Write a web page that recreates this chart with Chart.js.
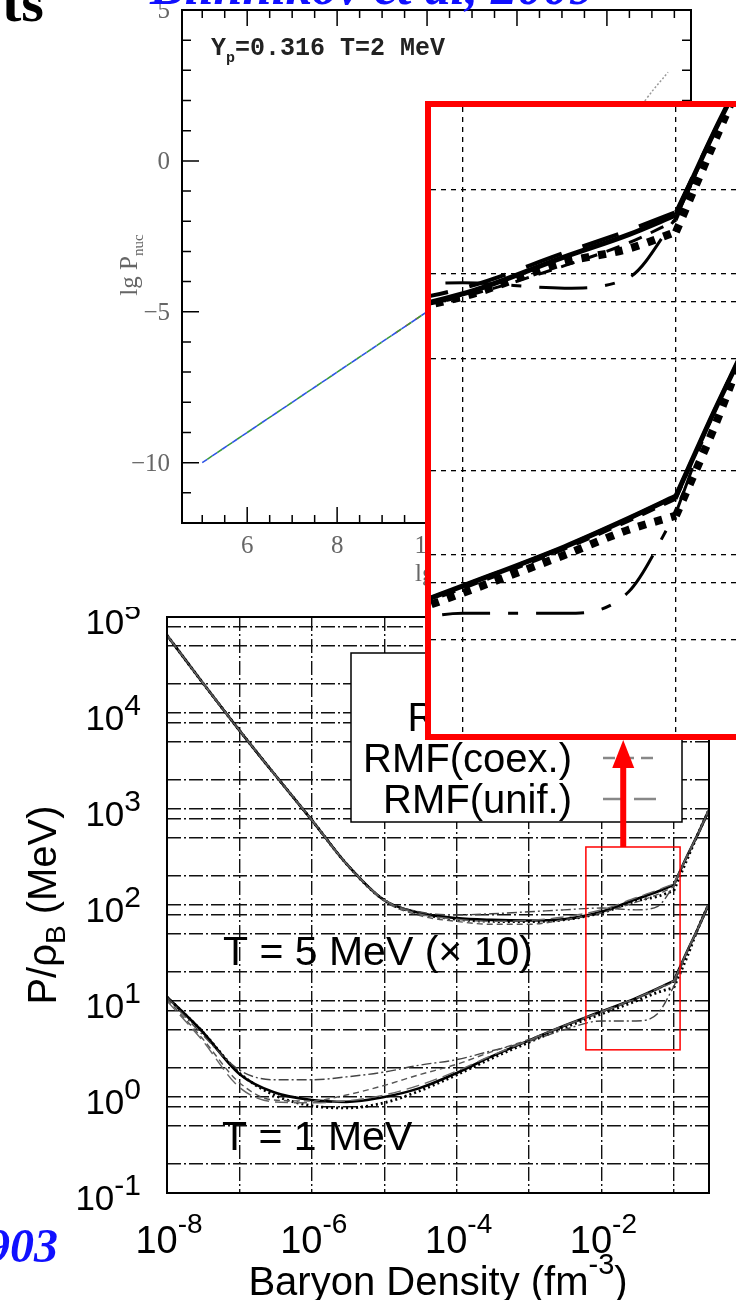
<!DOCTYPE html>
<html>
<head>
<meta charset="utf-8">
<script src="https://cdn.jsdelivr.net/npm/chart.js@4.4.1/dist/chart.umd.min.js"></script>
<style>
  body { margin: 0; background: #fff; }
  #page { position: relative; width: 736px; height: 1300px; overflow: hidden; background: #fff; }
  #page > canvas { position: absolute; }
  .slide { position: absolute; line-height: 0; white-space: nowrap; font-family: "Liberation Serif", serif; font-weight: bold; }
  #inset { position: absolute; left: 425px; top: 101px; width: 305px; height: 627px; border: 6px solid #ff0000; border-right: none; background: #fff; }
  #inset canvas { display: block; }
</style>
</head>
<body>
<div id="page">
  <canvas id="pressureChart" width="736" height="710" style="left:0;top:590px"></canvas>
  <canvas id="nucChart" width="736" height="607" style="left:0;top:0;background:#fff"></canvas>
  <div id="inset"><canvas id="zoomChart" width="305" height="627"></canvas></div>
  <div class="slide" style="left:2px;top:2.4px;font-size:58px;color:#000">ts</div>
  <div class="slide" style="left:150px;top:-13.5px;font-size:52px;color:#1010ff;font-style:italic">Blinnikov et al, 2009</div>
  <div class="slide" style="right:678px;top:1246px;font-size:48px;color:#1010ff;font-style:italic">0903</div>
</div>
<script>
// ---- upper figure (lg P_nuc vs lg rho, Yp=0.316, T=2 MeV)
const lgRho = [5, 6, 7, 8, 9, 10, 11];
const lgPnuc = [-10, -9, -8, -7, -6, -5, -4];
const lgRhoRed = [9.3, 10, 11];
const lgPnucRed = [-5.7, -5, -4];
const lgRhoDotted = [12.5, 13.5, 14.3, 14.9, 15.36];
const lgPnucDotted = [-2.5, -0.8, 0.8, 2.1, 2.94];
const lgRhoLabels = [6, 8, 10, 12, 14];
const lgPLabels = [-10, -5, 0, 5];

// ---- lower figure: P/rho_B (MeV) vs baryon density (fm^-3)
const density = [1e-8, 3e-8, 1e-7, 3e-7, 1e-6, 3e-6, 1e-5, 3e-5, 1e-4, 3e-4, 1e-3, 3e-3, 1e-2, 3e-2, 6e-2, 0.1, 0.15, 0.22, 0.3];
const kinkIndex = 15; // the curves break sharply at 0.1 fm^-3

// T = 5 MeV (x 10)
const t5Solid   = [64600, 21400, 6600, 2340, 767, 269, 112, 83, 73, 70, 69, 71, 85, 115, 138, 162, 316, 568, 950];
const t5Dotted  = [64600, 21400, 6600, 2340, 767, 269, 112, 82, 71, 67.5, 67, 70, 83, 110, 123, 141, 290, 568, 950];
const t5DashDot = [64600, 21400, 6600, 2340, 767, 270, 114, 85, 79, 81, 85, 89, 93, 89, 97, 158, 316, 568, 950];
const t5Coex    = [64600, 21400, 6600, 2340, 767, 269, 110, 78, 67.5, 63, 63, 70, 83, 107, 129, 155, 316, 568, 950];
const t5Unif    = [64600, 21400, 6600, 2340, 767, 269, 113, 81, 71, 67.5, 69, 75, 89, 119, 143, 166, 316, 568, 950];

// T = 1 MeV
const t1Solid   = [11.0, 4.9, 1.74, 1.12, 0.93, 0.89, 1.0, 1.23, 1.78, 2.63, 3.89, 5.5, 7.76, 10.7, 13.5, 16.2, 32, 59, 100];
const t1Dotted  = [11.0, 4.9, 1.78, 1.05, 0.81, 0.77, 0.87, 1.15, 1.70, 2.51, 3.72, 5.25, 7.33, 10.0, 12.3, 13.8, 28, 59, 100];
const t1DashDot = [11.0, 4.57, 1.91, 1.51, 1.51, 1.62, 1.82, 2.14, 2.45, 3.02, 3.80, 5.0, 6.2, 6.2, 7.4, 14.1, 32, 59, 100];
const t1Coex    = [10.5, 4.17, 1.41, 0.93, 0.91, 1.05, 1.32, 1.70, 2.19, 2.95, 3.98, 5.5, 7.6, 10.5, 13.2, 15.8, 32, 59, 100];
const t1Unif    = [10.0, 3.98, 1.26, 0.89, 0.87, 0.91, 1.05, 1.32, 1.86, 2.69, 3.89, 5.5, 7.76, 10.7, 13.5, 16.2, 32, 59, 100];

const densityGrid = [1e-8, 1e-7, 1e-6, 1e-5, 1e-4, 1e-3, 1e-2, 1e-1];
const densityLabelExp = [-8, -6, -4, -2];
const pressureGrid = [0.1, 0.2, 0.5, 0.8, 1, 2, 5, 8, 10, 20, 50, 80, 100, 200, 500, 800,
  1000, 2000, 5000, 8000, 1e4, 2e4, 5e4, 8e4, 1e5];
const pressureLabelExp = [-1, 0, 1, 2, 3, 4, 5];
const legendLabels = ['RMF(full)', 'RMF(coex.)', 'RMF(unif.)'];

// magnified region (red boxes)
const zoomBox = { xMin: 0.0061, xMax: 0.122, yMin: 3.1, yMax: 402 };
const zoomRangeX = [0.00708, 0.1914];
const zoomRangeY = [2.307, 392.6];
const zoomDensityGrid = [0.01, 0.1];
const zoomPressureGrid = [5, 8, 10, 20, 50, 80, 100, 200];

const curves = [
  ['coex', t5Coex], ['unif', t5Unif], ['dashdot', t5DashDot], ['solid', t5Solid], ['dotted', t5Dotted],
  ['coex', t1Coex], ['unif', t1Unif], ['dashdot', t1DashDot], ['solid', t1Solid], ['dotted', t1Dotted]
];

const mainStyle = {
  solid:   { borderColor: '#000', borderWidth: 2.6, borderDash: [] },
  dotted:  { borderColor: '#000', borderWidth: 2.8, borderDash: [2, 3] },
  dashdot: { borderColor: '#444', borderWidth: 1.4, borderDash: [10, 3, 2, 3] },
  coex:    { borderColor: '#555', borderWidth: 1.4, borderDash: [6, 4] },
  unif:    { borderColor: '#666', borderWidth: 1.4, borderDash: [13, 6] }
};
const zoomStyle = {
  solid:   { borderColor: '#000', borderWidth: 5, borderDash: [] },
  dotted:  { borderColor: '#000', borderWidth: 8, borderDash: [8, 9] },
  dashdot: { borderColor: '#000', borderWidth: 3, borderDash: [48, 18, 10, 18] },
  coex:    { borderColor: '#000', borderWidth: 3, borderDash: [14, 10] },
  unif:    { borderColor: '#000', borderWidth: 4, borderDash: [38, 22] }
};

function pairs(xs, ys) {
  return xs.map((v, i) => ({ x: v, y: ys[i] }));
}

// each curve is split at the kink so the smoothing does not round it off
function buildSets(style) {
  const sets = [];
  curves.forEach(([kind, ys]) => {
    const pts = pairs(density, ys);
    [pts.slice(0, kinkIndex + 1), pts.slice(kinkIndex)].forEach(part => {
      sets.push(Object.assign({
        data: part,
        pointRadius: 0,
        fill: false,
        cubicInterpolationMode: 'monotone'
      }, style[kind]));
    });
  });
  return sets;
}

// draws text pieces one after another; each piece = [text, size, yShift]
function drawRun(ctx, parts, x, y, align, family, weight) {
  family = family || '"Liberation Sans"';
  const pre = weight ? weight + ' ' : '';
  let total = 0;
  const widths = parts.map(([t, s]) => {
    ctx.font = pre + s + 'px ' + family;
    const w = ctx.measureText(t).width;
    total += w;
    return w;
  });
  let cx = align === 'center' ? x - total / 2 : (align === 'right' ? x - total : x);
  ctx.textAlign = 'left';
  parts.forEach(([t, s, dy], i) => {
    ctx.font = pre + s + 'px ' + family;
    ctx.fillText(t, cx, y + dy);
    cx += widths[i];
  });
}

// ---------- lower chart ----------
const pressureDecor = {
  id: 'pressureDecor',
  afterDraw(chart) {
    const { ctx, chartArea: a, scales: { x, y } } = chart;
    ctx.save();
    ctx.strokeStyle = '#000';
    ctx.lineWidth = 2;
    ctx.strokeRect(a.left, a.top, a.right - a.left, a.bottom - a.top);

    ctx.fillStyle = '#000';
    ctx.textBaseline = 'alphabetic';
    pressureLabelExp.forEach(e => {
      const py = y.getPixelForValue(Math.pow(10, e));
      drawRun(ctx, [['10', 35, 0], [String(e), 30, -15]], a.left - 26, py + 17, 'right');
    });
    densityLabelExp.forEach(e => {
      const px = x.getPixelForValue(Math.pow(10, e));
      drawRun(ctx, [['10', 38, 0], [String(e), 28, -20]], px + 2, a.bottom + 60, 'center');
    });

    // axis titles
    drawRun(ctx, [['Baryon Density (fm', 40, 0], ['-3', 29, -21], [')', 40, 0]],
      (a.left + a.right) / 2, a.bottom + 102, 'center');
    ctx.save();
    ctx.translate(56, (a.top + a.bottom) / 2);
    ctx.rotate(-Math.PI / 2);
    drawRun(ctx, [['P/\u03c1', 40, 0], ['B', 28, 9], [' (MeV)', 40, 0]], 0, 0, 'center');
    ctx.restore();

    // curve labels
    ctx.font = '41px "Liberation Sans"';
    ctx.textAlign = 'left';
    ctx.fillText('T = 5 MeV (\u00d7 10)', a.left + 56, 375);
    ctx.fillText('T = 1 MeV', a.left + 55, 560);

    // key box
    ctx.fillStyle = '#fff';
    ctx.fillRect(351, 63, 331, 169);
    ctx.strokeStyle = '#000';
    ctx.lineWidth = 1.5;
    ctx.strokeRect(351, 63, 331, 169);
    ctx.fillStyle = '#000';
    ctx.font = '40px "Liberation Sans"';
    ctx.textAlign = 'right';
    const sampleDash = [null, [12, 7], [22, 9]];
    legendLabels.forEach((label, i) => {
      const base = 141 + i * 41;
      ctx.fillText(label, 572, base);
      if (sampleDash[i]) {
        ctx.save();
        ctx.strokeStyle = '#888';
        ctx.lineWidth = 2.5;
        ctx.setLineDash(sampleDash[i]);
        ctx.beginPath();
        ctx.moveTo(603, base - 14);
        ctx.lineTo(657, base - 14);
        ctx.stroke();
        ctx.restore();
      }
    });

    // red box around the magnified region + arrow to the inset
    const bx0 = x.getPixelForValue(zoomBox.xMin);
    const bx1 = x.getPixelForValue(zoomBox.xMax);
    const by0 = y.getPixelForValue(zoomBox.yMax);
    const by1 = y.getPixelForValue(zoomBox.yMin);
    ctx.strokeStyle = '#ff0000';
    ctx.lineWidth = 1.5;
    ctx.strokeRect(bx0, by0, bx1 - bx0, by1 - by0);
    const ax = x.getPixelForValue(0.02);
    ctx.fillStyle = '#ff0000';
    ctx.fillRect(ax - 3, 176, 6, by0 - 176);
    ctx.beginPath();
    ctx.moveTo(ax, 150);
    ctx.lineTo(ax - 11, 178);
    ctx.lineTo(ax + 11, 178);
    ctx.closePath();
    ctx.fill();
    ctx.restore();
  }
};

new Chart(document.getElementById('pressureChart'), {
  type: 'line',
  data: { datasets: buildSets(mainStyle) },
  options: {
    responsive: false,
    animation: false,
    events: [],
    layout: { padding: { left: 167, right: 27, top: 27, bottom: 107 } },
    plugins: { legend: { display: false }, tooltip: { enabled: false } },
    scales: {
      x: {
        type: 'logarithmic', min: 1e-8, max: 0.306,
        ticks: { display: false },
        grid: { drawTicks: false, color: '#111', lineWidth: 1.4 },
        border: { display: false, dash: [14, 3, 2, 3] },
        afterBuildTicks: s => { s.ticks = densityGrid.map(v => ({ value: v })); },
        afterFit: s => { s.height = 0; }
      },
      y: {
        type: 'logarithmic', min: 0.1, max: 1e5,
        ticks: { display: false },
        grid: { drawTicks: false, color: '#111', lineWidth: 1.4 },
        border: { display: false, dash: [14, 3, 2, 3] },
        afterBuildTicks: s => { s.ticks = pressureGrid.map(v => ({ value: v })); },
        afterFit: s => { s.width = 0; }
      }
    }
  },
  plugins: [pressureDecor]
});

// ---------- upper chart ----------
const nucDecor = {
  id: 'nucDecor',
  afterDraw(chart) {
    const { ctx, chartArea: a, scales: { x, y } } = chart;
    ctx.save();
    ctx.strokeStyle = '#000';
    ctx.lineWidth = 2;
    ctx.strokeRect(a.left, a.top, a.right - a.left, a.bottom - a.top);
    ctx.lineWidth = 1.5;
    ctx.beginPath();
    for (let v = 5; v <= 15.5; v += 0.5) {
      const px = x.getPixelForValue(v);
      const len = v % 2 === 0 ? 16 : 8;
      ctx.moveTo(px, a.bottom); ctx.lineTo(px, a.bottom - len);
      ctx.moveTo(px, a.top); ctx.lineTo(px, a.top + len);
    }
    for (let v = -12; v <= 5; v++) {
      const py = y.getPixelForValue(v);
      const len = v % 5 === 0 ? 17 : 9;
      ctx.moveTo(a.left, py); ctx.lineTo(a.left + len, py);
      ctx.moveTo(a.right, py); ctx.lineTo(a.right - len, py);
    }
    ctx.stroke();

    ctx.fillStyle = '#666';
    ctx.font = '25px "Liberation Serif"';
    ctx.textAlign = 'center';
    lgRhoLabels.forEach(v => ctx.fillText(String(v), x.getPixelForValue(v), a.bottom + 30));
    ctx.textAlign = 'right';
    lgPLabels.forEach(v => ctx.fillText(String(v).replace('-', '\u2212'), a.left - 12, y.getPixelForValue(v) + 8));

    // axis titles
    drawRun(ctx, [['lg \u03c1', 25, 0]], 415, a.bottom + 58, 'left', '"Liberation Serif"');
    ctx.save();
    ctx.translate(137, 265);
    ctx.rotate(-Math.PI / 2);
    drawRun(ctx, [['lg P', 25, 0], ['nuc', 15, 6]], 0, 0, 'center', '"Liberation Serif"');
    ctx.restore();

    // annotation
    ctx.fillStyle = '#222';
    drawRun(ctx, [['Y', 25, 0], ['p', 15, 7], ['=0.316 T=2 MeV', 25, 0]], 211, 55, 'left', '"Liberation Mono"', 'bold');
    ctx.restore();
  }
};

new Chart(document.getElementById('nucChart'), {
  type: 'line',
  data: {
    datasets: [
      { data: pairs(lgRho, lgPnuc), borderColor: '#2f55e6', borderWidth: 1.6, borderDash: [6, 6], pointRadius: 0, tension: 0 },
      { data: pairs(lgRho, lgPnuc), borderColor: '#3a9a3a', borderWidth: 1.6, borderDash: [6, 6], borderDashOffset: 6, pointRadius: 0, tension: 0 },
      { data: pairs(lgRhoRed, lgPnucRed), borderColor: '#e03a3a', borderWidth: 1.6, borderDash: [6, 6], pointRadius: 0, tension: 0 },
      { data: pairs(lgRhoDotted, lgPnucDotted), borderColor: '#999', borderWidth: 1.5, borderDash: [2, 2], pointRadius: 0, tension: 0.4 }
    ]
  },
  options: {
    responsive: false,
    animation: false,
    events: [],
    layout: { padding: { left: 182, right: 45, top: 10, bottom: 84 } },
    plugins: { legend: { display: false }, tooltip: { enabled: false } },
    scales: {
      x: { type: 'linear', min: 4.55, max: 15.87, ticks: { display: false }, grid: { display: false },
           border: { display: false }, afterFit: s => { s.height = 0; } },
      y: { type: 'linear', min: -12, max: 5, ticks: { display: false }, grid: { display: false },
           border: { display: false }, afterFit: s => { s.width = 0; } }
    }
  },
  plugins: [nucDecor]
});

// ---------- magnified inset ----------
new Chart(document.getElementById('zoomChart'), {
  type: 'line',
  data: { datasets: buildSets(zoomStyle) },
  options: {
    responsive: false,
    animation: false,
    events: [],
    layout: { padding: 0 },
    plugins: { legend: { display: false }, tooltip: { enabled: false } },
    scales: {
      x: {
        type: 'logarithmic', min: zoomRangeX[0], max: zoomRangeX[1],
        ticks: { display: false },
        grid: { drawTicks: false, color: '#000', lineWidth: 1.3 },
        border: { display: false, dash: [5, 5] },
        afterBuildTicks: s => { s.ticks = zoomDensityGrid.map(v => ({ value: v })); },
        afterFit: s => { s.height = 0; }
      },
      y: {
        type: 'logarithmic', min: zoomRangeY[0], max: zoomRangeY[1],
        ticks: { display: false },
        grid: { drawTicks: false, color: '#000', lineWidth: 1.3 },
        border: { display: false, dash: [5, 5] },
        afterBuildTicks: s => { s.ticks = zoomPressureGrid.map(v => ({ value: v })); },
        afterFit: s => { s.width = 0; }
      }
    }
  }
});
</script>
</body>
</html>
